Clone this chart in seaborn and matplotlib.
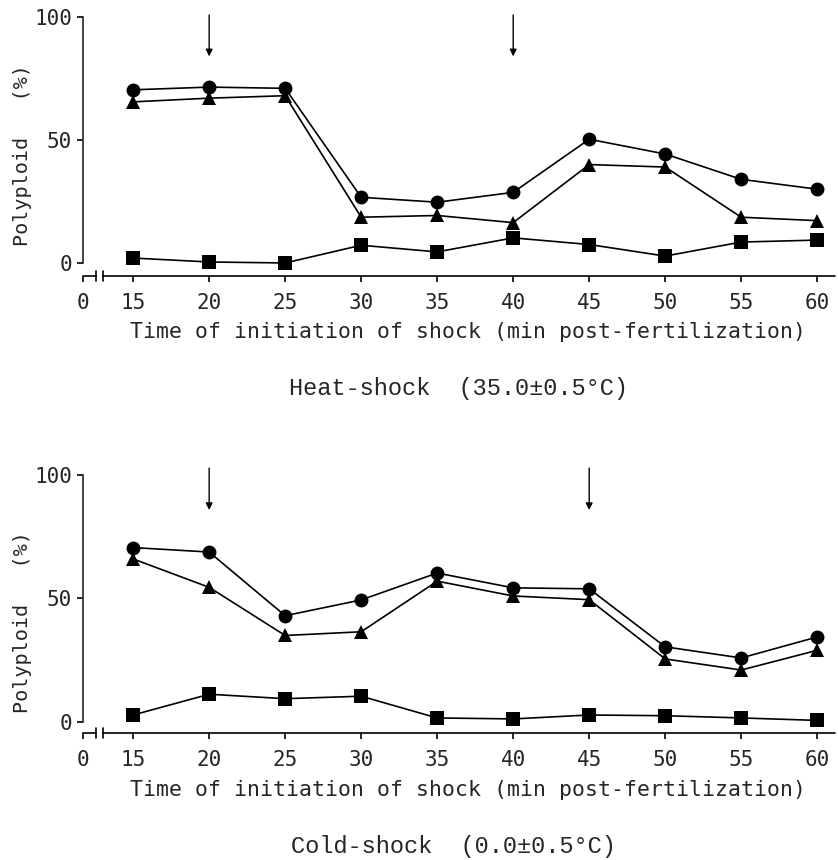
import numpy as np
import pandas as pd
import matplotlib
matplotlib.use("Agg")
import matplotlib.pyplot as plt
import seaborn as sns

# ---- data ----
times = [15, 20, 25, 30, 35, 40, 45, 50, 55, 60]
tick_labels = ["0", "15", "20", "25", "30", "35", "40", "45", "50", "55", "60"]

heat_circle = [70.4, 71.5, 71.0, 26.7, 24.7, 28.7, 50.3, 44.3, 34.0, 30.0]
heat_triangle = [65.5, 67.0, 68.0, 18.6, 19.3, 16.4, 40.0, 39.0, 18.6, 17.2]
heat_square = [2.0, 0.4, 0.0, 7.2, 4.5, 10.2, 7.5, 2.8, 8.5, 9.3]
heat_arrows = [20, 40]

cold_circle = [70.6, 68.8, 43.0, 49.4, 60.3, 54.3, 53.9, 30.4, 25.9, 34.4]
cold_triangle = [66.0, 54.5, 35.0, 36.5, 57.0, 51.0, 49.5, 25.5, 21.0, 29.0]
cold_square = [2.8, 11.2, 9.4, 10.4, 1.6, 1.2, 2.8, 2.5, 1.6, 0.6]
cold_arrows = [20, 45]

ylabel = "Polyploid   (%)"
xlabel = "Time of initiation of shock (min post-fertilization)"
heat_caption = "Heat-shock  (35.0\u00b10.5\u00b0C)"
cold_caption = "Cold-shock  (0.0\u00b10.5\u00b0C)"

sns.set_style("ticks")
plt.rcParams['font.family'] = ['DejaVu Sans Mono', 'DejaVu Sans']

W, H = 838, 860
fig = plt.figure(figsize=(W / 100, H / 100), dpi=100)

X0 = 11.7      # data x of the "0" position (broken axis)
XMAX = 61.17


def make_panel(rect, circ, tri, sq, arrows, arrow_top, arrow_bot, ymin, label_y):
    ax = fig.add_axes(rect)
    df = pd.DataFrame({
        "time": times * 3,
        "value": circ + tri + sq,
        "series": ["circle"] * len(times) + ["triangle"] * len(times) + ["square"] * len(times),
    })
    sns.lineplot(data=df, x="time", y="value", hue="series", style="series",
                 palette={"circle": "black", "triangle": "black", "square": "black"},
                 markers={"circle": "o", "triangle": "^", "square": "s"},
                 dashes=False, markersize=10, linewidth=1.2, markeredgewidth=0,
                 legend=False, ax=ax, clip_on=False)
    ax.set_xlim(X0, XMAX)
    ax.set_ylim(ymin, 100)
    ax.set_xlabel("")
    for s in ["top", "right", "bottom"]:
        ax.spines[s].set_visible(False)
    ax.spines["left"].set_bounds(0, 100)
    ax.spines["left"].set_linewidth(1.2)
    ax.set_yticks([0, 50, 100])
    ax.set_yticklabels(["0", "50", "100"])
    ax.set_xticks([X0] + times)
    ax.set_xticklabels(tick_labels)
    ax.tick_params(axis="both", direction="out", length=4, width=1.2,
                   labelsize=15, pad=4, color="black")
    ax.tick_params(axis="x", pad=8)
    # broken x axis line
    tr = ax.get_xaxis_transform()
    b1 = X0 + (96 - 83) / 15.2
    b2 = X0 + (103 - 83) / 15.2
    ax.plot([X0, b1], [0, 0], color="black", lw=1.2, transform=tr, clip_on=False)
    ax.plot([b2, XMAX], [0, 0], color="black", lw=1.2, transform=tr, clip_on=False)
    for bx in (b1, b2):
        ax.plot([bx, bx], [-0.018, 0.018], color="black", lw=1.2, transform=tr, clip_on=False)
    # arrows
    for a in arrows:
        ax.annotate("", xy=(a, arrow_bot), xytext=(a, arrow_top),
                    arrowprops=dict(arrowstyle="-|>", color="black", lw=1.0,
                                    mutation_scale=10, shrinkA=0, shrinkB=0),
                    annotation_clip=False)
    ax.set_ylabel(ylabel, fontsize=14.5)
    ax.yaxis.label.set(va="center", ha="center")
    ax.yaxis.set_label_coords((22 - 83) / 752, label_y)
    ax.patch.set_alpha(0)
    return ax


# top panel: 100 at y=17px, axis line at y=276px
make_panel([83 / W, 1 - 276 / H, 752 / W, 259 / H],
           heat_circle, heat_triangle, heat_square, heat_arrows, 100.8, 84.0, -5.3, 0.467)
# bottom panel: 100 at y=475px, axis line at y=733px
make_panel([83 / W, 1 - 733 / H, 752 / W, 258 / H],
           cold_circle, cold_triangle, cold_square, cold_arrows, 102.8, 85.8, -4.5, 0.43)

fig.text(468 / W, 1 - 332 / H, xlabel, ha="center", va="center", fontsize=15.5)
fig.text(458 / W, 1 - 388 / H, heat_caption, ha="center", va="center", fontsize=17,
         family=["Liberation Mono", "DejaVu Sans Mono"])
fig.text(468 / W, 1 - 790 / H, xlabel, ha="center", va="center", fontsize=15.5)
fig.text(453 / W, 1 - 847 / H, cold_caption, ha="center", va="center", fontsize=17,
         family=["Liberation Mono", "DejaVu Sans Mono"])

fig.savefig("out.png", dpi=100, facecolor="white")
